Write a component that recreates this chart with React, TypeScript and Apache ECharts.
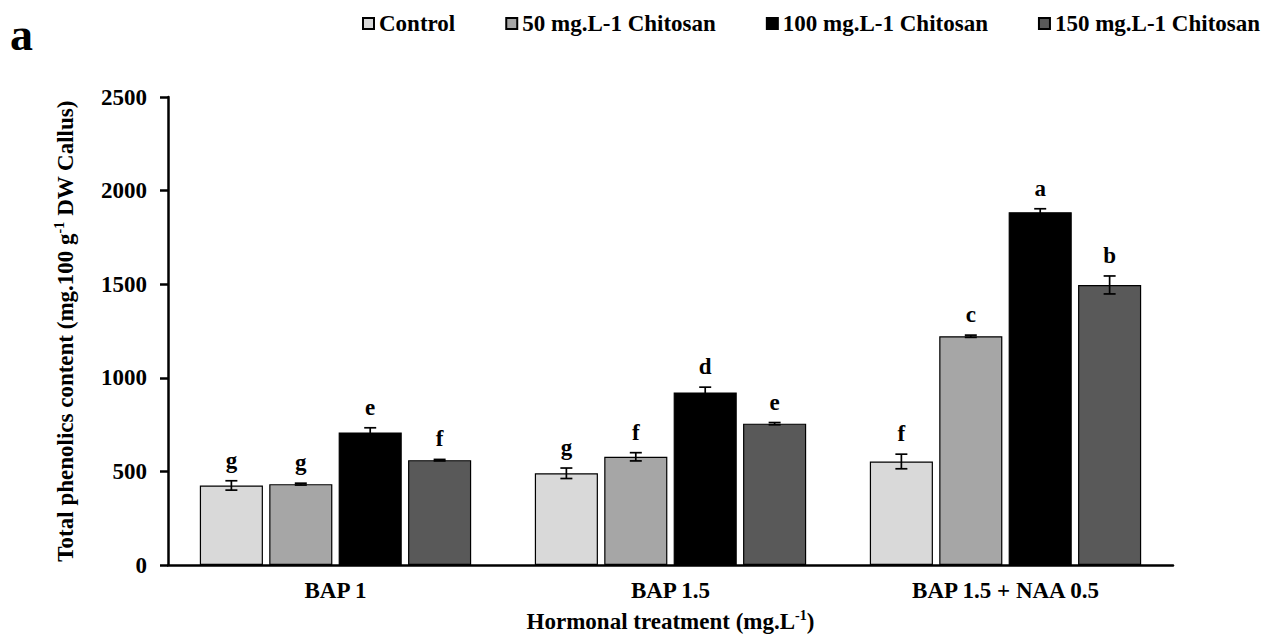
import React, { useEffect, useRef } from "react";
import * as echarts from "echarts";

const categories = ["BAP 1", "BAP 1.5", "BAP 1.5 + NAA 0.5"];
const seriesNames = ["Control", "50 mg.L-1 Chitosan", "100 mg.L-1 Chitosan", "150 mg.L-1 Chitosan"];

const controlValues = [425, 490, 553];
const chitosan50Values = [432, 578, 1222];
const chitosan100Values = [708, 922, 1885];
const chitosan150Values = [560, 755, 1496];

const controlErrors = [25, 28, 39];
const chitosan50Errors = [5, 22, 6];
const chitosan100Errors = [25, 28, 18];
const chitosan150Errors = [4, 6, 48];

const controlLetters = ["g", "g", "f"];
const chitosan50Letters = ["g", "f", "c"];
const chitosan100Letters = ["e", "d", "a"];
const chitosan150Letters = ["f", "e", "b"];

const yMin = 0;
const yMax = 2500;
const yInterval = 500;

const colors = ["#d9d9d9", "#a6a6a6", "#000000", "#595959"];

const FONT = '"Liberation Serif", "Times New Roman", serif';
const CAT_GAP = 0.19;
const BAR_GAP = 0.1;

export default function App() {
  const ref = useRef<HTMLDivElement>(null);

  useEffect(() => {
    if (!ref.current) return;
    const chart = echarts.init(ref.current, undefined, { renderer: "svg" });

    const values = [controlValues, chitosan50Values, chitosan100Values, chitosan150Values];
    const errors = [controlErrors, chitosan50Errors, chitosan100Errors, chitosan150Errors];
    const letters = [controlLetters, chitosan50Letters, chitosan100Letters, chitosan150Letters];
    const n = values.length;

    const barSeries = values.map((vals, i) => ({
      name: seriesNames[i],
      type: "bar",
      data: vals,
      barCategoryGap: (CAT_GAP * 100) + "%",
      barGap: (BAR_GAP * 100) + "%",
      itemStyle: { color: colors[i], borderColor: "#000", borderWidth: 1.2 },
      z: 2,
    }));

    const errSeries = values.map((vals, i) => ({
      type: "custom",
      name: "err" + i,
      z: 5,
      data: vals.map((v, j) => [j, v, errors[i][j]]),
      renderItem: (params: any, api: any) => {
        const cat = api.value(0);
        const val = api.value(1);
        const err = api.value(2);
        const base = api.coord([cat, val]);
        const band = api.size([1, 0])[0];
        const bw = (band * (1 - CAT_GAP)) / (n + (n - 1) * BAR_GAP);
        const total = n * bw + (n - 1) * bw * BAR_GAP;
        const cx = base[0] - total / 2 + i * bw * (1 + BAR_GAP) + bw / 2;
        const top = api.coord([cat, val + err])[1];
        const bot = api.coord([cat, val - err])[1];
        const cap = 6;
        const ls = { stroke: "#000", lineWidth: 1.7 };
        return {
          type: "group",
          children: [
            { type: "line", shape: { x1: cx, y1: top, x2: cx, y2: bot }, style: ls },
            { type: "line", shape: { x1: cx - cap, y1: top, x2: cx + cap, y2: top }, style: ls },
            { type: "line", shape: { x1: cx - cap, y1: bot, x2: cx + cap, y2: bot }, style: ls },
            {
              type: "text",
              x: cx,
              y: top - 9,
              style: {
                text: letters[i][params.dataIndex],
                fill: "#000",
                fontSize: 23,
                fontWeight: "bold",
                fontFamily: FONT,
                align: "center",
                verticalAlign: "bottom",
              },
            },
          ],
        };
      },
    }));

    chart.setOption({
      animation: false,
      backgroundColor: "#fff",
      graphic: [
        {
          type: "text",
          left: 10,
          top: 11,
          style: { text: "a", fill: "#000", fontSize: 46, fontWeight: "bold", fontFamily: FONT },
        },
      ],
      legend: {
        data: seriesNames,
        left: 357,
        top: 7,
        icon: "rect",
        itemWidth: 11,
        itemHeight: 11,
        itemGap: 50,
        textStyle: { fontSize: 23, fontWeight: "bold", fontFamily: FONT, color: "#000" },
      },
      grid: { left: 168, right: 94, top: 97, bottom: 77, containLabel: false },
      xAxis: {
        type: "category",
        data: categories,
        axisLine: { lineStyle: { color: "#000", width: 2.5 } },
        axisTick: { show: false },
        axisLabel: { fontSize: 23, fontWeight: "bold", fontFamily: FONT, color: "#000", margin: 14 },
        name: "{a|Hormonal treatment (mg.L}{s|-1}{a|)}",
        nameLocation: "middle",
        nameGap: 43,
        nameTextStyle: {
          rich: {
            a: { fontSize: 23, fontWeight: "bold", fontFamily: FONT, color: "#000", lineHeight: 26 },
            s: { fontSize: 14, fontWeight: "bold", fontFamily: FONT, color: "#000", lineHeight: 14, verticalAlign: "top" },
          },
        },
      },
      yAxis: {
        type: "value",
        min: yMin,
        max: yMax,
        interval: yInterval,
        splitLine: { show: false },
        axisLine: { show: true, lineStyle: { color: "#000", width: 2.5 } },
        axisTick: { show: true, length: 8, lineStyle: { color: "#000", width: 2.5 } },
        axisLabel: {
          fontSize: 23,
          fontWeight: "bold",
          fontFamily: FONT,
          color: "#000",
          margin: 21,
          formatter: (v: number) => String(v),
        },
        name: "{a|Total phenolics content (mg.100 g}{s|-1}{a| DW Callus)}",
        nameLocation: "middle",
        nameGap: 90,
        nameTextStyle: {
          rich: {
            a: { fontSize: 23, fontWeight: "bold", fontFamily: FONT, color: "#000", lineHeight: 26 },
            s: { fontSize: 14, fontWeight: "bold", fontFamily: FONT, color: "#000", lineHeight: 14, verticalAlign: "top" },
          },
        },
      },
      series: [...barSeries, ...errSeries],
    });

    return () => chart.dispose();
  }, []);

  return (
    <div
      ref={ref}
      style={{ position: "fixed", left: 0, top: 0, width: 1267, height: 642, background: "#fff" }}
    />
  );
}
